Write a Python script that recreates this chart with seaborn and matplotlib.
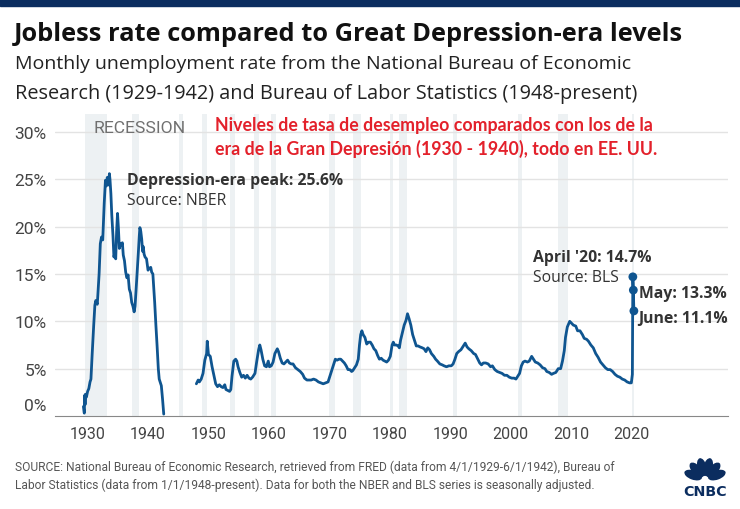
import matplotlib
matplotlib.use("Agg")
import numpy as np
import matplotlib.pyplot as plt
from matplotlib.patches import Ellipse
from matplotlib.transforms import ScaledTranslation
import seaborn as sns

# NBER monthly-ish readings, 1929-1942
dep_year = [1929.3, 1929.45, 1929.52, 1929.58, 1929.65, 1929.8, 1930.0, 1930.2, 1930.4, 1930.55,
            1930.75, 1931.0, 1931.2, 1931.35, 1931.6, 1931.9, 1932.1, 1932.3, 1932.5, 1932.75,
            1932.95, 1933.1, 1933.25, 1933.45, 1933.6, 1933.7, 1933.85, 1934.0, 1934.2, 1934.35,
            1934.5, 1934.65, 1934.8, 1934.95, 1935.1, 1935.25, 1935.45, 1935.6, 1935.75, 1935.9,
            1936.1, 1936.3, 1936.5, 1936.7, 1936.9, 1937.1, 1937.3, 1937.5, 1937.7, 1937.85,
            1938.0, 1938.2, 1938.4, 1938.55, 1938.65, 1938.8, 1938.95, 1939.1, 1939.2, 1939.35,
            1939.5, 1939.75, 1940.0, 1940.2, 1940.45, 1940.6, 1940.8, 1941.1, 1941.3, 1941.5,
            1941.7, 1941.85, 1942.0, 1942.2, 1942.4, 1942.6]
dep_rate = [1.0, 0.3, 2.2, 1.2, 2.3, 2.0, 2.6, 2.9, 3.6, 3.9,
            6.5, 9.5, 11.7, 12.2, 11.8, 15.0, 18.2, 18.9, 18.6, 22.5,
            24.9, 24.3, 25.2, 24.4, 25.6, 25.0, 23.5, 21.2, 19.0, 16.8,
            17.2, 16.6, 19.5, 21.4, 19.8, 17.7, 18.2, 18.0, 18.3, 17.0,
            16.4, 15.2, 14.6, 14.9, 13.4, 13.0, 12.0, 11.6, 11.0, 11.6,
            13.1, 15.2, 17.3, 19.0, 19.9, 19.5, 18.7, 17.4, 17.9, 17.1,
            16.8, 16.6, 15.4, 15.6, 15.7, 15.2, 15.0, 12.0, 9.6, 7.4,
            5.0, 3.9, 3.6, 3.2, 1.8, 0.2]

# BLS readings, 1948-present
bls_year = [1948.0, 1948.3, 1948.5, 1948.8, 1949.1, 1949.4, 1949.7, 1949.8, 1950.0, 1950.3,
            1950.6, 1950.9, 1951.2, 1951.5, 1951.8, 1952.1, 1952.4, 1952.7, 1952.9, 1953.2,
            1953.5, 1953.7, 1953.9, 1954.2, 1954.5, 1954.7, 1954.9, 1955.2, 1955.5, 1955.8,
            1956.1, 1956.4, 1956.7, 1957.0, 1957.3, 1957.7, 1958.0, 1958.3, 1958.5, 1958.7,
            1959.0, 1959.3, 1959.6, 1959.9, 1960.1, 1960.4, 1960.7, 1961.0, 1961.4, 1961.6,
            1961.9, 1962.2, 1962.5, 1962.8, 1963.1, 1963.4, 1963.7, 1964.0, 1964.4, 1964.8,
            1965.2, 1965.6, 1965.9, 1966.3, 1966.7, 1967.0, 1967.4, 1967.8, 1968.2, 1968.6,
            1969.0, 1969.4, 1969.8, 1970.1, 1970.4, 1970.7, 1971.0, 1971.3, 1971.6, 1971.9,
            1972.2, 1972.5, 1972.8, 1973.1, 1973.4, 1973.7, 1973.9, 1974.2, 1974.5, 1974.8,
            1975.0, 1975.2, 1975.4, 1975.6, 1975.9, 1976.2, 1976.5, 1976.8, 1977.1, 1977.4,
            1977.7, 1978.0, 1978.3, 1978.6, 1978.9, 1979.2, 1979.5, 1979.8, 1980.1, 1980.4,
            1980.6, 1980.8, 1981.1, 1981.4, 1981.6, 1981.8, 1982.1, 1982.4, 1982.7, 1982.95,
            1983.2, 1983.5, 1983.8, 1984.1, 1984.4, 1984.7, 1985.0, 1985.4, 1985.7, 1986.0,
            1986.3, 1986.6, 1986.9, 1987.3, 1987.6, 1987.9, 1988.3, 1988.7, 1989.0, 1989.4,
            1989.8, 1990.2, 1990.5, 1990.8, 1991.1, 1991.4, 1991.8, 1992.2, 1992.5, 1992.8,
            1993.1, 1993.5, 1993.9, 1994.2, 1994.6, 1994.9, 1995.2, 1995.5, 1995.9, 1996.3,
            1996.7, 1997.0, 1997.4, 1997.8, 1998.2, 1998.6, 1999.0, 1999.4, 1999.8, 2000.2,
            2000.6, 2000.9, 2001.2, 2001.5, 2001.8, 2002.1, 2002.4, 2002.8, 2003.1, 2003.5,
            2003.8, 2004.1, 2004.5, 2004.9, 2005.3, 2005.7, 2006.0, 2006.4, 2006.8, 2007.1,
            2007.5, 2007.9, 2008.3, 2008.6, 2008.9, 2009.1, 2009.4, 2009.8, 2010.1, 2010.4,
            2010.8, 2011.1, 2011.5, 2011.9, 2012.2, 2012.6, 2012.9, 2013.3, 2013.7, 2014.1,
            2014.5, 2014.9, 2015.3, 2015.7, 2016.1, 2016.5, 2016.9, 2017.3, 2017.7, 2018.1,
            2018.5, 2018.9, 2019.3, 2019.7, 2020.0, 2020.17, 2020.25, 2020.33, 2020.42]
bls_rate = [3.4, 3.8, 3.6, 3.9, 4.5, 5.9, 6.6, 7.9, 6.5, 6.3,
            5.2, 4.3, 3.4, 3.1, 3.3, 3.1, 3.0, 3.3, 2.8, 2.7,
            2.6, 2.8, 4.2, 5.8, 6.0, 5.8, 5.2, 4.6, 4.1, 4.3,
            4.0, 4.3, 4.0, 3.9, 4.1, 4.5, 5.8, 7.0, 7.5, 7.0,
            6.0, 5.3, 5.2, 5.8, 5.2, 5.3, 5.7, 6.6, 7.1, 6.8,
            6.1, 5.6, 5.5, 5.7, 5.9, 5.6, 5.5, 5.5, 5.1, 4.9,
            4.7, 4.4, 4.0, 3.8, 3.8, 3.8, 3.9, 3.8, 3.6, 3.5,
            3.4, 3.5, 3.6, 4.2, 4.8, 5.4, 6.0, 5.9, 6.0, 6.0,
            5.8, 5.6, 5.3, 4.9, 4.9, 4.7, 4.8, 5.1, 5.4, 6.0,
            7.5, 8.6, 9.0, 8.6, 8.3, 7.6, 7.8, 7.8, 7.5, 7.1,
            6.9, 6.4, 6.0, 6.1, 5.9, 5.8, 5.7, 5.9, 6.3, 7.5,
            7.8, 7.5, 7.5, 7.4, 7.2, 8.0, 8.8, 9.6, 10.1, 10.8,
            10.3, 9.6, 8.6, 8.0, 7.4, 7.4, 7.3, 7.2, 7.1, 6.8,
            7.2, 7.0, 6.6, 6.3, 6.0, 5.8, 5.5, 5.4, 5.3, 5.2,
            5.3, 5.3, 5.5, 6.0, 6.6, 6.8, 7.0, 7.4, 7.7, 7.3,
            7.1, 6.9, 6.6, 6.5, 6.0, 5.6, 5.4, 5.6, 5.6, 5.5,
            5.2, 5.3, 4.9, 4.7, 4.6, 4.5, 4.3, 4.3, 4.1, 4.0,
            4.0, 3.9, 4.2, 4.5, 5.3, 5.7, 5.8, 5.7, 5.8, 6.3,
            6.0, 5.7, 5.6, 5.4, 5.1, 5.0, 4.7, 4.6, 4.4, 4.5,
            4.6, 5.0, 5.0, 5.8, 6.9, 8.3, 9.4, 10.0, 9.8, 9.6,
            9.5, 9.0, 9.0, 8.6, 8.2, 8.1, 7.9, 7.5, 7.2, 6.6,
            6.2, 5.7, 5.4, 5.1, 4.9, 4.9, 4.7, 4.4, 4.2, 4.1,
            3.9, 3.8, 3.6, 3.5, 3.5, 4.4, 14.7, 13.3, 11.1]

# NBER recession periods (start, end)
rec_start = [1929.6, 1937.4, 1945.1, 1948.9, 1953.5, 1957.6, 1960.3, 1969.9, 1973.9,
             1980.0, 1981.5, 1990.5, 2001.2, 2007.9, 2020.1]
rec_end = [1933.2, 1938.5, 1945.8, 1949.8, 1954.4, 1958.3, 1961.1, 1970.9, 1975.2,
           1980.5, 1982.9, 1991.2, 2001.9, 2009.5, 2020.4]

y_ticks = [0, 5, 10, 15, 20, 25, 30]
x_ticks = [1930, 1940, 1950, 1960, 1970, 1980, 1990, 2000, 2010, 2020]

sns.set_style("white")
plt.rcParams["font.family"] = ["Open Sans", "DejaVu Sans"]

W, H = 740, 510
fig = plt.figure(figsize=(W / 100, H / 100), dpi=100)


def fx(px):
    return px / W


def fy(py):
    return 1 - py / H


line_col = "#0f5590"
txt_col = "#333333"
navy = "#0b2d5f"

# navy strip at the very top
fig.patches.append(plt.Rectangle((0, fy(7)), 1, 7 / H, transform=fig.transFigure,
                                 color=navy, zorder=0))

fig.text(fx(14), fy(41), "Jobless rate compared to Great Depression-era levels",
         fontsize=18.3, fontweight="bold", color="#111111")
fig.text(fx(15), fy(69), "Monthly unemployment rate from the National Bureau of Economic",
         fontsize=14, color="#222222")
fig.text(fx(15), fy(99), "Research (1929-1942) and Bureau of Labor Statistics (1948-present)",
         fontsize=14.3, color="#222222")

ax = fig.add_axes([fx(55), fy(417), fx(728) - fx(55), fy(115) - fy(417)])

for s, e in zip(rec_start, rec_end):
    ax.axvspan(s, e, color="#edf1f3", lw=0, zorder=0)

sns.lineplot(x=dep_year, y=dep_rate, ax=ax, color=line_col, lw=2, estimator=None, sort=False)
sns.lineplot(x=bls_year, y=bls_rate, ax=ax, color=line_col, lw=2, estimator=None, sort=False)
sns.scatterplot(x=bls_year[-3:], y=bls_rate[-3:], ax=ax, color=line_col, s=40,
                edgecolor="none", zorder=5)

ax.set_xlim(1924.6, 2036)
ax.set_ylim(0, 31.9)
ax.set_yticks(y_ticks)
ax.set_yticklabels([f"{v}%" for v in y_ticks], family=["Roboto", "DejaVu Sans"])
ax.set_xticks(x_ticks)
ax.set_xticklabels([str(v) for v in x_ticks], family=["Roboto", "DejaVu Sans"])
for v in y_ticks[1:]:
    ax.axhline(v, color="#e3e3e3", lw=1, zorder=0.5)
for side in ["top", "right", "left"]:
    ax.spines[side].set_visible(False)
ax.spines["bottom"].set_color("#888888")
ax.tick_params(axis="y", length=0, labelsize=12.5, labelcolor="#444444", pad=6)
ax.tick_params(axis="x", length=4, direction="in", color="#888888",
               labelsize=11.5, labelcolor="#444444", pad=7)
ax.set_xlabel("")
ax.set_ylabel("")
# the 0% label sits a bit above the baseline
lbl0 = ax.get_yticklabels()[0]
lbl0.set_transform(lbl0.get_transform() + ScaledTranslation(0, 0.12, fig.dpi_scale_trans))

ax.text(1931, 30.5, "RECESSION", fontsize=12.6, color="#707070", va="center",
        family=["Roboto", "DejaVu Sans"])
fig.text(fx(215), fy(131), "Niveles de tasa de desempleo comparados con los de la",
         fontsize=12.8, fontweight="bold", color="#e3212b", family=["Lato", "DejaVu Sans"])
fig.text(fx(215), fy(155), "era de la Gran Depresión (1930 - 1940), todo en EE. UU.",
         fontsize=12.8, fontweight="bold", color="#e3212b", family=["Lato", "DejaVu Sans"])

ax.text(1936.5, 24.9, "Depression-era peak: 25.6%", fontsize=11.3, fontweight="bold",
        color=txt_col, va="center")
ax.text(1936.5, 22.8, "Source: NBER", fontsize=11.3, color=txt_col, va="center")

ax.text(2003.7, 16.8, "April '20: 14.7%", fontsize=11.3, fontweight="bold", color=txt_col,
        va="center")
ax.text(2003.7, 14.7, "Source: BLS", fontsize=11.3, color=txt_col, va="center")
ax.text(2021.2, 13.0, "May: 13.3%", fontsize=11.3, fontweight="bold", color=txt_col, va="center")
ax.text(2021.2, 10.4, "June: 11.1%", fontsize=11.3, fontweight="bold", color=txt_col, va="center")

fig.text(fx(15), fy(471), "SOURCE: National Bureau of Economic Research, retrieved from FRED "
         "(data from 4/1/1929-6/1/1942), Bureau of", fontsize=8.65, color="#555555",
         family=["Roboto", "DejaVu Sans"])
fig.text(fx(15), fy(489), "Labor Statistics (data from 1/1/1948-present). Data for both the "
         "NBER and BLS series is seasonally adjusted.", fontsize=8.65, color="#555555",
         family=["Roboto", "DejaVu Sans"])

# small peacock mark
lax = fig.add_axes([fx(682), fy(497), fx(46), fy(455) - fy(497)])
lax.set_xlim(-1.15, 1.15)
lax.set_ylim(-1.05, 1.05)
lax.axis("off")
for ang in [-70, -42, -14, 14, 42, 70]:
    r = np.radians(ang)
    lax.add_patch(Ellipse((0.63 * np.sin(r), -0.22 + 0.63 * np.cos(r)), 0.46, 0.92,
                          angle=-ang, color=navy, lw=0))
lax.text(0, -0.78, "CNBC", ha="center", va="center", fontsize=10.3, fontweight="bold",
         color=navy, family=["DejaVu Sans"])

fig.savefig("out.png", dpi=100)
